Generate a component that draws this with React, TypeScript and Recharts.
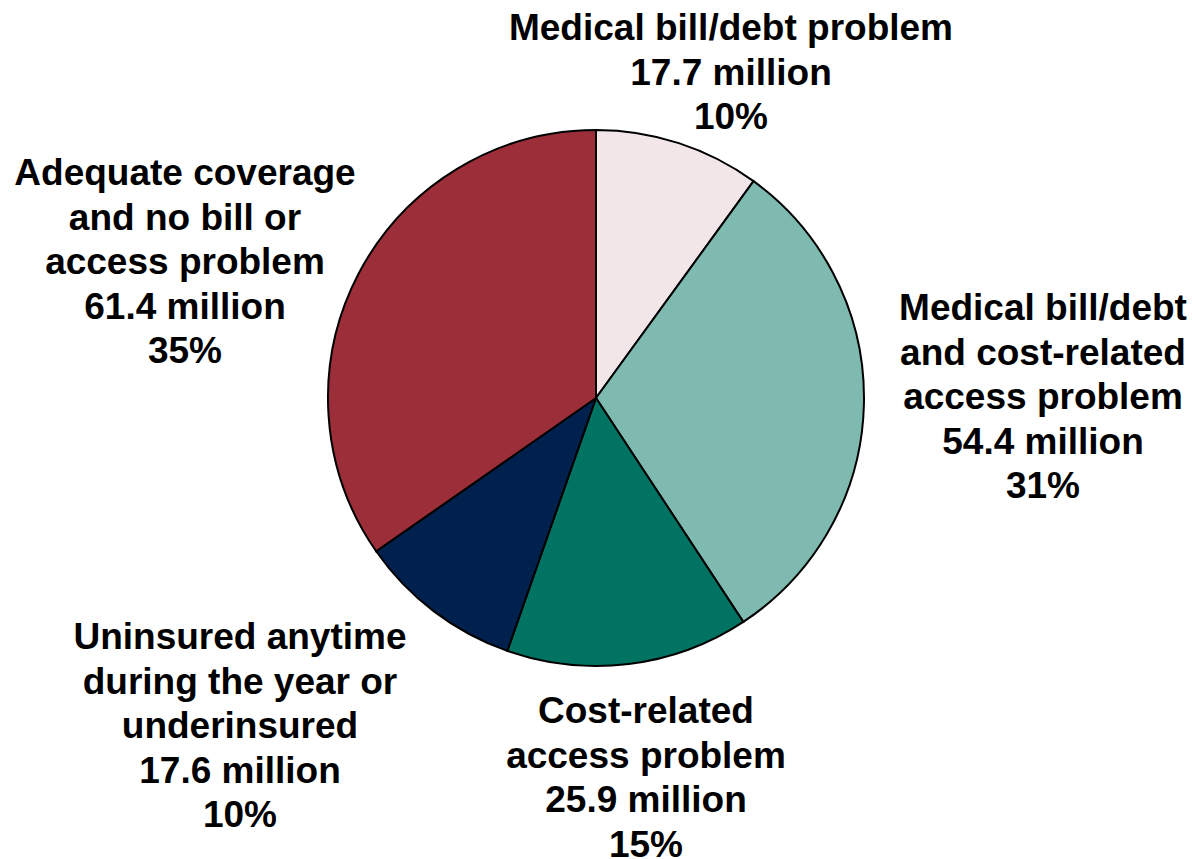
import { PieChart, Pie, Cell } from "recharts";

// slices, clockwise from 12 o'clock
const categories = [
  "Medical bill/debt problem",
  "Medical bill/debt and cost-related access problem",
  "Cost-related access problem",
  "Uninsured anytime during the year or underinsured",
  "Adequate coverage and no bill or access problem",
];
const millions = [17.7, 54.4, 25.9, 17.6, 61.4];
const percents = ["10%", "31%", "15%", "10%", "35%"];
const labelLines = [
  ["Medical bill/debt problem"],
  ["Medical bill/debt", "and cost-related", "access problem"],
  ["Cost-related", "access problem"],
  ["Uninsured anytime", "during the year or", "underinsured"],
  ["Adequate coverage", "and no bill or", "access problem"],
];

const COLORS = ["#F3E6E9", "#7FBAB1", "#007363", "#00204E", "#9C2E3A"];

// label block anchor (center x, first baseline y)
const LABEL_POS = [
  { x: 731, y: 40 },
  { x: 1043, y: 320 },
  { x: 646, y: 723 },
  { x: 240, y: 649 },
  { x: 185, y: 185 },
];
const LINE_H = 44.6;

const data = categories.map((name, i) => ({
  name,
  value: millions[i],
  pct: percents[i],
}));

const renderLabel = (props: any) => {
  const i = props.index;
  const pos = LABEL_POS[i];
  const lines = [...labelLines[i], `${millions[i]} million`, percents[i]];
  return (
    <text
      key={`lbl-${i}`}
      x={pos.x}
      y={pos.y}
      textAnchor="middle"
      fill="#000"
      style={{ fontFamily: "'Liberation Sans', Arial, sans-serif", fontWeight: 700, fontSize: 37 }}
    >
      {lines.map((l, j) => (
        <tspan key={j} x={pos.x} y={pos.y + j * LINE_H}>
          {l}
        </tspan>
      ))}
    </text>
  );
};

export default function App() {
  return (
    <div style={{ position: "absolute", left: 0, top: 0, width: 1192, height: 859, background: "#fff" }}>
      <PieChart width={1192} height={859} margin={{ top: 0, right: 0, bottom: 0, left: 0 }}>
        <Pie
          data={data}
          dataKey="value"
          nameKey="name"
          cx={596}
          cy={398}
          outerRadius={268}
          startAngle={90}
          endAngle={-270}
          stroke="#000"
          strokeWidth={2}
          label={renderLabel}
          labelLine={false}
          isAnimationActive={false}
        >
          {data.map((d, i) => (
            <Cell key={d.name} fill={COLORS[i]} />
          ))}
        </Pie>
      </PieChart>
    </div>
  );
}
